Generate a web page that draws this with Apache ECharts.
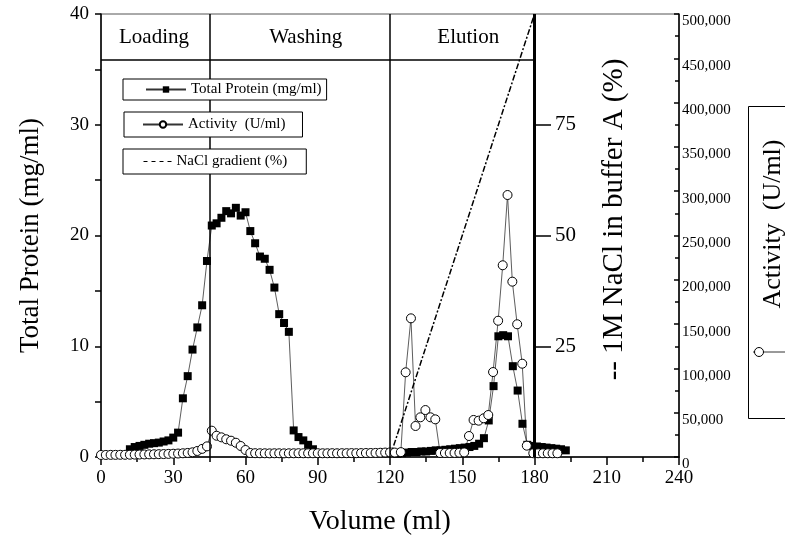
<!DOCTYPE html>
<html><head><meta charset="utf-8">
<script src="https://cdn.jsdelivr.net/npm/echarts@6/dist/echarts.min.js"></script>
<style>html,body{margin:0;padding:0;background:#fff}#c{width:785px;height:545px}</style>
</head><body><div id="c"></div>
<script>
// ---- data ----
const proteinVolume = [12,14,16,18,20,22,24,26,28,30,32,34,36,38,40,42,44,46,48,50,52,54,56,58,60,62,64,66,68,70,72,74,76,78,80,82,84,86,88,
  105,
  123,125,127,129,131,133,135,137,139,141,143,145,147,149,151,153,155,157,159,161,163,165,167,169,171,173,175,177,179,181,183,185,187,189,191,193];
const proteinValue = [0.7,0.9,1.0,1.1,1.2,1.25,1.3,1.4,1.5,1.75,2.2,5.3,7.3,9.7,11.7,13.7,17.7,20.9,21.1,21.6,22.2,22.0,22.5,21.8,22.1,20.4,19.3,18.1,17.9,16.9,15.3,12.9,12.1,11.3,2.4,1.8,1.5,1.1,0.7,
  null,
  0.3,0.35,0.4,0.45,0.45,0.5,0.5,0.55,0.6,0.6,0.65,0.7,0.75,0.8,0.85,0.9,1.0,1.2,1.7,3.3,6.4,10.9,11.0,10.9,8.2,6.0,3.0,1.1,1.0,0.95,0.9,0.85,0.8,0.75,0.7,0.6];

const activityVolume = [0,2,4,6,8,10,12,14,16,18,20,22,24,26,28,30,32,34,36,38,40,42,44,46,48,50,52,54,56,58,60,62,
  64,66,68,70,72,74,76,78,80,82,84,86,88,90,92,94,96,98,100,102,104,106,108,110,112,114,116,118,120,
  122,124.5,126.5,128.7,130.6,132.6,134.7,136.8,138.8,140.8,142.8,144.8,146.8,148.8,150.8,152.8,154.7,156.8,158.9,160.8,162.8,164.9,166.8,168.8,170.8,172.8,174.9,176.8,179.5,181.5,183.5,185.5,187.5,189.5];
const activityValue = [2300,2300,2400,2400,2500,2500,2600,2700,2800,2900,3000,3100,3200,3300,3500,3700,3900,4200,4600,5300,6800,9200,12000,29700,24000,22200,20000,18400,16100,12400,7900,4500,
  4300,4200,4200,4100,4200,4200,4100,4200,4200,4300,4200,4200,4200,4300,4200,4200,4300,4200,4300,4300,4400,4300,4400,4500,4500,4600,4800,5000,5200,
  5000,5500,95600,156500,35000,44800,53000,44800,42500,4500,4500,4500,4600,4800,5200,23700,41800,41000,43700,47400,95900,153800,216400,295700,197900,149800,105300,12800,4200,4200,4200,4200,4200,4200];

const gradientVolume = [120, 180];
const gradientPercent = [0, 100];

const phaseNames = ['Loading', 'Washing', 'Elution'];
const phaseCenters = [22, 85, 152.5];
const phaseLabelLevel = 37.9;
const phaseBounds = [45, 120, 180];
const headerLevel = 35.9;

const naclTicks = [25, 50, 75];

const NAME_P = 'Total Protein (mg/ml)';
const NAME_A = 'Activity  (U/ml)';
const NAME_G = 'NaCl gradient (%)';

// ---- chart ----
const FONT = 'Liberation Serif';
const pairs = (xs, ys) => xs.map((x, i) => [x, ys[i]]);
const chart = echarts.init(document.getElementById('c'), null, {renderer: 'canvas'});

const legendBase = {
  orient: 'horizontal', itemHeight: 8, borderColor: '#000', borderWidth: 1, borderRadius: 0,
  backgroundColor: '#fff', selectedMode: false, z: 20,
  textStyle: {fontFamily: FONT, fontSize: 15, color: '#000'}
};

const option = {
  animation: false,
  backgroundColor: '#fff',
  grid: {left: 101, right: 106, top: 14, bottom: 88, show: true, borderColor: '#555', borderWidth: 1},
  xAxis: {
    type: 'value', min: 0, max: 240, interval: 30,
    name: 'Volume (ml)', nameLocation: 'middle', nameGap: 51,
    nameTextStyle: {fontFamily: FONT, fontSize: 28, color: '#000', padding: [0, 20, 0, 0]},
    axisLine: {show: true, onZero: false, lineStyle: {color: '#000', width: 1.5}},
    axisTick: {show: true, length: 8, lineStyle: {color: '#000', width: 1.5}},
    minorTick: {show: true, splitNumber: 2, length: 5, lineStyle: {color: '#000', width: 1.5}},
    axisLabel: {fontFamily: FONT, fontSize: 19, color: '#000', margin: 12},
    splitLine: {show: false}
  },
  yAxis: [
    {
      type: 'value', position: 'left', min: 0, max: 40, interval: 10,
      name: 'Total Protein (mg/ml)', nameLocation: 'middle', nameGap: 57, nameRotate: 90,
      nameTextStyle: {fontFamily: FONT, fontSize: 27, color: '#000'},
      axisLine: {show: true, lineStyle: {color: '#000', width: 1.5}},
      axisTick: {show: true, length: 6, lineStyle: {color: '#000', width: 1.5}},
      minorTick: {show: true, splitNumber: 2, length: 6, lineStyle: {color: '#000', width: 1.5}},
      axisLabel: {fontFamily: FONT, fontSize: 19, color: '#000', margin: 12, padding: [5, 0, 0, 0]},
      splitLine: {show: false}
    },
    {
      type: 'value', position: 'right', min: 0, max: 500000, interval: 50000,
      axisLine: {show: true, lineStyle: {color: '#000', width: 1.5}},
      axisTick: {show: true, inside: true, length: 5, lineStyle: {color: '#000', width: 1.5}},
      minorTick: {show: true, splitNumber: 2, length: 4, lineStyle: {color: '#000', width: 1.5}},
      axisLabel: {fontFamily: FONT, fontSize: 15, color: '#000', margin: 3, verticalAlign: 'top',
        formatter: v => v.toLocaleString('en-US')},
      splitLine: {show: false}
    },
    {
      type: 'value', position: 'right', offset: -143, min: 0, max: 100, interval: 25,
      name: '-- 1M NaCl in buffer A (%)', nameLocation: 'middle', nameGap: 64, nameRotate: 90,
      nameTextStyle: {fontFamily: FONT, fontSize: 29, color: '#000', padding: [0, 0, 0, 32]},
      axisLine: {show: false},
      axisTick: {show: true, length: 15, customValues: naclTicks, lineStyle: {color: '#000', width: 1.5}},
      axisLabel: {fontFamily: FONT, fontSize: 21, color: '#000', margin: 19, customValues: naclTicks, padding: [8, 0, 0, 0]},
      splitLine: {show: false}
    }
  ],
  legend: [
    Object.assign({}, legendBase, {data: [NAME_P], left: 123, top: 79, padding: [3, 5, 3, 22], itemWidth: 40}),
    Object.assign({}, legendBase, {data: [NAME_A], left: 124, top: 112, padding: [5, 17, 5, 18], itemWidth: 40}),
    Object.assign({}, legendBase, {data: [NAME_G], left: 123, top: 149, padding: [5, 19, 5, 20], itemWidth: 28,
      itemStyle: {opacity: 0}, lineStyle: {type: [4, 4], width: 1, color: '#000'}})
  ],
  series: [
    {
      name: NAME_P, type: 'line', xAxisIndex: 0, yAxisIndex: 0,
      data: pairs(proteinVolume, proteinValue), connectNulls: false,
      symbol: 'rect', symbolSize: 8, showAllSymbol: true,
      itemStyle: {color: '#000'}, lineStyle: {color: '#333', width: 0.8},
      markLine: {
        silent: true, symbol: ['none', 'none'], label: {show: false},
        lineStyle: {color: '#000', width: 1.5, type: 'solid'},
        data: phaseBounds.map((b, i) => ({xAxis: b, lineStyle: {color: '#000', width: i === 2 ? 3 : 1.5, type: 'solid'}}))
          .concat([[{coord: [0, headerLevel]}, {coord: [phaseBounds[2], headerLevel]}]])
      },
      markPoint: {
        silent: true, symbol: 'rect', symbolSize: 1, itemStyle: {color: 'rgba(0,0,0,0)'},
        label: {show: true, position: 'inside', formatter: '{b}', fontFamily: FONT, fontSize: 21, color: '#000'},
        data: phaseNames.map((n, i) => ({name: n, coord: [phaseCenters[i], phaseLabelLevel]}))
      }
    },
    {
      name: NAME_A, type: 'line', xAxisIndex: 0, yAxisIndex: 1,
      data: pairs(activityVolume, activityValue),
      symbol: 'circle', symbolSize: 9, showAllSymbol: true,
      itemStyle: {color: '#fff', borderColor: '#000', borderWidth: 1},
      lineStyle: {color: '#333', width: 0.8}
    },
    {
      name: NAME_G, type: 'line', xAxisIndex: 0, yAxisIndex: 2,
      data: pairs(gradientVolume, gradientPercent),
      symbol: 'none', itemStyle: {color: '#000'},
      lineStyle: {color: '#000', width: 1.5, type: [6, 2, 2, 2]}
    }
  ],
  graphic: [
    {type: 'rect', left: 748, top: 106, shape: {width: 60, height: 312}, style: {fill: '#fff', stroke: '#000', lineWidth: 1}, z: 10},
    {type: 'text', x: 773, y: 224, rotation: Math.PI / 2, z: 11,
      style: {text: 'Activity  (U/ml)', font: '26px "Liberation Serif"', fill: '#000', align: 'center', verticalAlign: 'middle'}},
    {type: 'line', shape: {x1: 753, y1: 352, x2: 790, y2: 352}, style: {stroke: '#000', lineWidth: 0.8}, z: 11},
    {type: 'circle', shape: {cx: 759, cy: 352, r: 4.5}, style: {fill: '#fff', stroke: '#000', lineWidth: 1}, z: 12}
  ]
};
chart.setOption(option);
</script></body></html>
